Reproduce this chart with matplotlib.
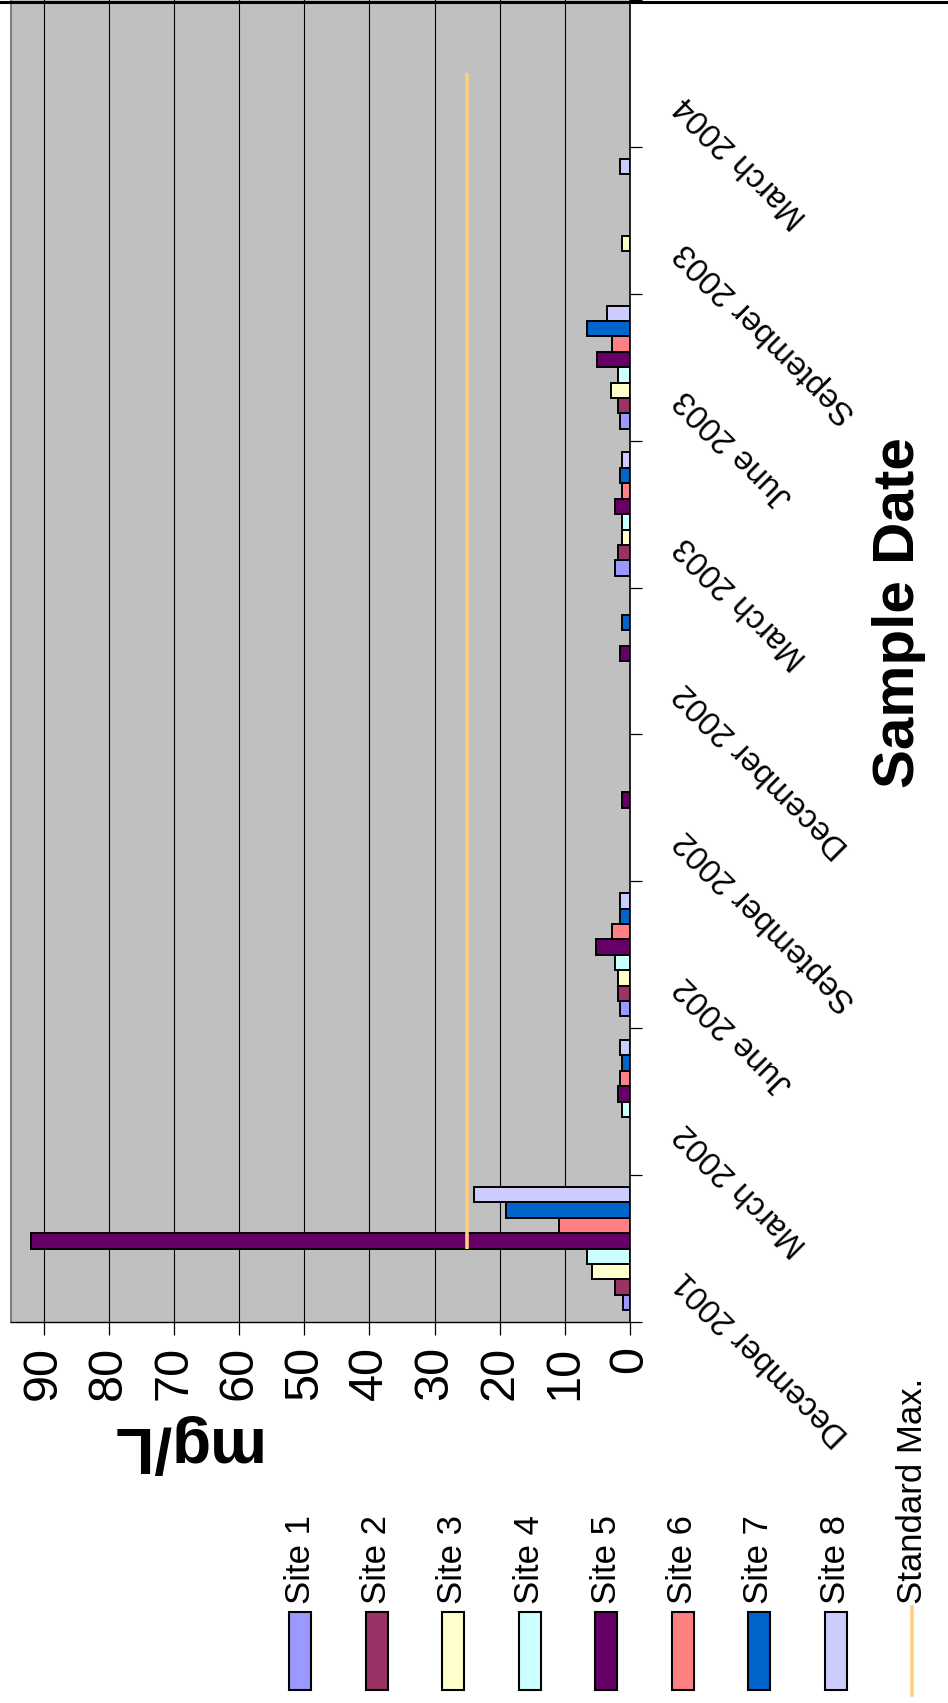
import numpy as np
import matplotlib
matplotlib.use("Agg")
import matplotlib.pyplot as plt
from matplotlib.patches import Rectangle
from matplotlib.lines import Line2D
from matplotlib.transforms import offset_copy

plt.rcParams['font.family'] = ['Liberation Sans', 'DejaVu Sans']

# sample dates (bottom to top) and readings in mg/L, nan = no sample
dates = ['December 2001', 'March 2002', 'June 2002', 'September 2002',
         'December 2002', 'March 2003', 'June 2003', 'September 2003',
         'March 2004']
nan = np.nan
site1 = [1.0, nan, 1.6, nan, nan, 2.25, 1.6, nan, nan]
site2 = [2.3, nan, 1.9, nan, nan, 1.9, 1.9, nan, nan]
site3 = [5.9, nan, 1.9, nan, nan, 1.2, 2.9, 1.3, nan]
site4 = [6.6, 1.2, 2.25, nan, nan, 1.2, 1.9, nan, nan]
site5 = [92.0, 1.9, 5.2, 1.2, 1.6, 2.25, 5.0, nan, nan]
site6 = [10.9, 1.6, 2.8, nan, nan, 1.2, 2.8, nan, nan]
site7 = [19.0, 1.2, 1.6, nan, 1.2, 1.6, 6.6, nan, nan]
site8 = [24.0, 1.6, 1.6, nan, nan, 1.3, 3.6, 1.6, nan]
standard_max = 25

series = [site1, site2, site3, site4, site5, site6, site7, site8]
names = ['Site 1', 'Site 2', 'Site 3', 'Site 4', 'Site 5', 'Site 6',
         'Site 7', 'Site 8']
colors = ['#9999FF', '#993366', '#FFFFCC', '#CCFFFF', '#660066',
          '#FF8080', '#0066CC', '#CCCCFF']
std_color = '#FFCC80'

W, H = 948, 1703
fig = plt.figure(figsize=(W / 100, H / 100), dpi=100)

def fx(px):
    return px / W

def fy(py):
    return 1 - py / H

# plot area, laid out sideways
ax = fig.add_axes([fx(11), fy(1322), fx(630) - fx(11), fy(0) - fy(1322)])
ax.set_facecolor('#C0C0C0')

n = len(dates)
ypos = np.arange(n)
h = 0.84 / len(series)
for j, vals in enumerate(series):
    vals = np.array(vals)
    m = np.isfinite(vals)
    ax.barh(ypos[m] + (j - 3.5) * h, vals[m], height=h, color=colors[j],
            edgecolor='black', linewidth=1.4, zorder=3)

ax.plot(np.full(n, standard_max), ypos, color=std_color, lw=2.6,
        solid_capstyle='butt', zorder=4)

ax.set_xlim(95, 0)
ax.set_ylim(-0.5, n - 0.5)

ax.set_xticks(range(0, 91, 10))
ax.tick_params(axis='x', direction='out', length=9.5, width=0.9,
               labelsize=35, labelrotation=90, pad=8)
ax.grid(axis='x', color='black', linewidth=0.8, zorder=1)
ax.set_axisbelow(True)

ax.yaxis.tick_right()
ax.set_yticks(np.arange(-0.5, n, 1))
ax.set_yticklabels([])
ax.tick_params(axis='y', direction='out', length=8.6, width=0.9,
               right=True, left=False)

ax.spines['top'].set_visible(False)
ax.spines['left'].set_color('#808080')
ax.spines['left'].set_linewidth(1.5)
ax.spines['bottom'].set_color('black')
ax.spines['bottom'].set_linewidth(1.0)
ax.spines['right'].set_color('black')
ax.spines['right'].set_linewidth(1.2)

# slanted date labels next to the category axis
lab_tr = offset_copy(ax.get_yaxis_transform(), fig=fig, x=50, y=-27,
                     units='dots')
for i, d in enumerate(dates):
    ax.text(1.0, i, d, transform=lab_tr, rotation=135,
            rotation_mode='anchor', ha='right', va='center', fontsize=23.5,
            clip_on=False)

# axis titles
fig.text(fx(182), fy(1444), 'mg/L', rotation=180, fontsize=46,
         fontweight='bold', ha='center', va='center')
fig.text(fx(899), fy(613), 'Sample Date', rotation=90, fontsize=42,
         fontweight='bold', ha='center', va='center')

# border along the top
fig.add_artist(Line2D([0, 1], [fy(1.5), fy(1.5)], transform=fig.transFigure,
                      color='black', lw=2.2))

# legend, one column per entry
x0, step = 300, 76.5
for j, name in enumerate(names):
    cx = x0 + j * step
    fig.add_artist(Rectangle((fx(cx - 11), fy(1690)), fx(22), fy(1612) - fy(1690),
                             transform=fig.transFigure, facecolor=colors[j],
                             edgecolor='black', linewidth=1.5))
    fig.text(fx(cx), fy(1604), name, rotation=90, fontsize=25,
             ha='center', va='bottom')
cx = x0 + len(names) * step
fig.add_artist(Line2D([fx(cx), fx(cx)], [fy(1607), fy(1695)],
                      transform=fig.transFigure, color=std_color, lw=2.6))
fig.text(fx(cx), fy(1604), 'Standard Max.', rotation=90, fontsize=25,
         ha='center', va='bottom')

fig.savefig('out.png', dpi=100)
